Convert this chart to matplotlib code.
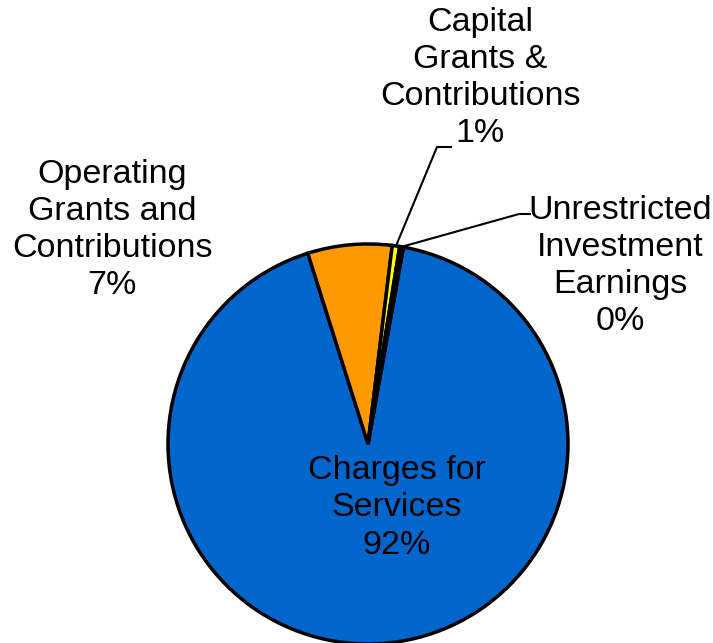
import numpy as np
import matplotlib.pyplot as plt

plt.rcParams['font.family'] = ['Liberation Sans', 'DejaVu Sans']

categories = ['Charges for\nServices', 'Operating\nGrants and\nContributions',
              'Capital\nGrants &\nContributions', 'Unrestricted\nInvestment\nEarnings']
shares = [92.3, 6.8, 0.6, 0.3]
pct_labels = ['92%', '7%', '1%', '0%']
colors = ['#0066CC', '#FF9900', '#FFFF00', '#000000']

W, H = 713, 643
fig = plt.figure(figsize=(W / 100, H / 100), dpi=100)
ax = fig.add_axes([0, 0, 1, 1])

cx, cy, r = 368, H - 444, 200
wedges, _ = ax.pie(shares, colors=colors, center=(cx, cy), radius=r,
                   startangle=79.8, counterclock=False,
                   explode=[0, 0.02, 0, 0],
                   wedgeprops=dict(edgecolor='black', linewidth=2.5),
                   frame=True)
ax.set_xlim(0, W)
ax.set_ylim(0, H)
ax.set_aspect('equal')
ax.axis('off')

fs = 24.5
ls = 1.25
# inside label for the big slice
ax.text(397, H - 508, categories[0] + '\n' + pct_labels[0], ha='center', va='center',
        fontsize=fs, linespacing=ls)
# left label
ax.text(112, H - 230, categories[1] + '\n' + pct_labels[1], ha='center', va='center',
        fontsize=fs, linespacing=ls)
# top labels with leader lines
ax.text(480, H - 78, categories[2] + '\n' + pct_labels[2], ha='center', va='center',
        fontsize=fs, linespacing=ls)
ax.text(620, H - 266, categories[3] + '\n' + pct_labels[3], ha='center', va='center',
        fontsize=fs, linespacing=ls)


def edge_point(w):
    ang = np.deg2rad((w.theta1 + w.theta2) / 2)
    return cx + r * np.cos(ang), cy + r * np.sin(ang)


x0, y0 = edge_point(wedges[2])
ax.plot([x0, 437, 451], [y0, H - 147, H - 147], color='black', lw=1.5)
x0, y0 = edge_point(wedges[3])
ax.plot([x0, 519, 530], [y0, H - 214, H - 214], color='black', lw=1.5)

fig.savefig('out.png', dpi=100)
